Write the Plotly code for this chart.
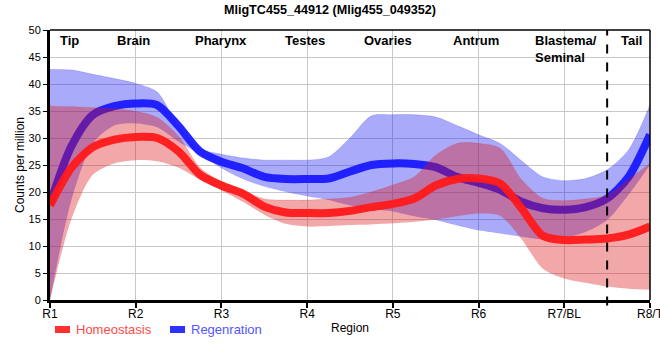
import plotly.graph_objects as go

# region positions (1 = R1 ... 8 = R8/T), quarter steps
pos = [1, 1.25, 1.5, 1.75, 2, 2.25, 2.5, 2.75, 3, 3.25, 3.5, 3.75, 4, 4.25, 4.5, 4.75,
       5, 5.25, 5.5, 5.75, 6, 6.25, 6.5, 6.75, 7, 7.25, 7.5, 7.75, 8]

homeo_mean = [17.5, 24.5, 28.3, 29.7, 30.2, 30.0, 27.5, 23.2, 21.2, 19.7, 17.3, 16.2, 16.1, 16.1, 16.5, 17.2,
              17.8, 18.8, 21.2, 22.4, 22.5, 21.6, 17.0, 11.9, 11.1, 11.2, 11.4, 12.1, 13.6]
homeo_upper = [35.9, 35.8, 35.6, 35.4, 34.9, 33.8, 30.3, 24.5, 21.9, 20.3, 18.7, 18.5, 18.5, 18.7, 19.0, 20.0,
               21.3, 22.8, 26.8, 29.0, 29.0, 28.1, 22.3, 18.8, 18.4, 18.7, 19.4, 22.3, 25.3]
homeo_lower = [0.0, 15.0, 23.2, 25.3, 25.9, 25.7, 24.5, 22.3, 20.3, 18.2, 15.8, 14.1, 13.6, 13.7, 13.9, 14.0,
               14.2, 14.5, 14.9, 15.5, 16.0, 15.6, 11.3, 5.8, 4.0, 3.2, 2.5, 2.1, 1.9]

regen_mean = [17.8, 28.5, 34.3, 35.9, 36.4, 36.1, 32.2, 27.5, 25.6, 24.4, 22.8, 22.4, 22.4, 22.5, 23.8, 25.0,
              25.3, 25.2, 24.6, 22.8, 21.7, 20.4, 18.2, 17.0, 16.7, 17.2, 18.8, 22.8, 30.6]
regen_upper = [42.7, 42.6, 41.8, 41.0, 40.1, 38.5, 32.0, 28.0, 27.0, 26.3, 25.9, 25.9, 25.9, 26.5, 30.0, 34.1,
               34.3, 34.3, 33.9, 32.3, 30.6, 29.0, 25.8, 22.8, 22.1, 22.5, 24.1, 27.8, 36.1]
regen_lower = [0.0, 18.5, 29.0, 32.3, 32.7, 32.0, 29.3, 27.0, 24.4, 22.4, 21.0, 20.0, 19.2, 18.5, 17.5, 16.8,
               16.4, 15.5, 14.8, 13.8, 12.9, 12.3, 11.7, 11.2, 11.5, 12.6, 14.8, 19.5, 25.0]

tick_pos = [1, 2, 3, 4, 5, 6, 7, 8]
tick_labels = ["R1", "R2", "R3", "R4", "R5", "R6", "R7/BL", "R8/T"]

region_names = ["Tip", "Brain", "Pharynx", "Testes", "Ovaries", "Antrum", "Blastema/<br>Seminal", "Tail"]
region_name_pos = [1.23, 1.97, 2.99, 3.97, 4.94, 5.97, 7.02, 7.78]

series_names = ["Homeostasis", "Regenration"]
series_text_colors = ["#ff4a4a", "#5454ff"]
series_swatch_colors = ["#ff3030", "#3030ff"]

title_text = "MligTC455_44912 (Mlig455_049352)"

SM = 0.8
fig = go.Figure()

# Regeneration band
fig.add_trace(go.Scatter(x=pos, y=regen_lower, mode="lines", line=dict(width=0, shape="spline", smoothing=SM),
                         showlegend=False, hoverinfo="skip"))
fig.add_trace(go.Scatter(x=pos, y=regen_upper, mode="lines", fill="tonexty",
                         fillcolor="rgba(20,20,240,0.36)",
                         line=dict(width=0.6, color="rgba(20,20,240,0.3)", shape="spline", smoothing=SM),
                         showlegend=False, hoverinfo="skip"))
# Regeneration line
fig.add_trace(go.Scatter(x=pos, y=regen_mean, mode="lines",
                         line=dict(width=8, color="rgba(25,25,255,0.95)", shape="spline", smoothing=SM),
                         name=series_names[1], showlegend=False))
# Homeostasis band
fig.add_trace(go.Scatter(x=pos, y=homeo_lower, mode="lines", line=dict(width=0, shape="spline", smoothing=SM),
                         showlegend=False, hoverinfo="skip"))
fig.add_trace(go.Scatter(x=pos, y=homeo_upper, mode="lines", fill="tonexty",
                         fillcolor="rgba(220,20,20,0.37)",
                         line=dict(width=0.6, color="rgba(220,20,20,0.3)", shape="spline", smoothing=SM),
                         showlegend=False, hoverinfo="skip"))
# Homeostasis line
fig.add_trace(go.Scatter(x=pos, y=homeo_mean, mode="lines",
                         line=dict(width=8, color="rgba(255,25,25,0.95)", shape="spline", smoothing=SM),
                         name=series_names[0], showlegend=False))

for name, xp in zip(region_names, region_name_pos):
    fig.add_annotation(x=xp, y=49.75, yanchor="top", text="<b>" + name + "</b>", showarrow=False,
                       align="left", font=dict(size=13, color="black", family="Liberation Sans, Arial"))

# manual legend (bottom left)
legend_x = [5, 120]  # px offsets from plot left
for i, (nm, tc, sc) in enumerate(zip(series_names, series_text_colors, series_swatch_colors)):
    x0 = legend_x[i] / 600.0
    fig.add_shape(type="rect", xref="paper", yref="paper", x0=x0, x1=x0 + 15 / 600.0,
                  y0=-33 / 270.0, y1=-26 / 270.0, fillcolor=sc, line=dict(width=0))
    fig.add_annotation(xref="paper", yref="paper", x=x0 + 19 / 600.0, y=-29.5 / 270.0, xanchor="left",
                       yanchor="middle", text=nm, showarrow=False, font=dict(size=13, color=tc))

# dashed separator
fig.add_shape(type="line", x0=7.5, x1=7.5, y0=-0.02, y1=1, xref="x", yref="paper",
              line=dict(color="black", width=2, dash="dash"))
# top and right border
fig.add_shape(type="line", x0=0, x1=1, y0=1, y1=1, xref="paper", yref="paper",
              line=dict(color="black", width=1.5))
fig.add_shape(type="line", x0=1, x1=1, y0=0, y1=1, xref="paper", yref="paper",
              line=dict(color="black", width=1.5))

fig.update_layout(
    width=660, height=360,
    margin=dict(l=50, r=10, t=30, b=60, autoexpand=False),
    paper_bgcolor="white", plot_bgcolor="white",
    font=dict(family="Liberation Sans, Arial", size=12, color="black"),
    title=dict(text="<b>" + title_text + "</b>", x=0.5, xref="container", xanchor="center",
               y=0.972, yref="container", yanchor="middle", font=dict(size=12.6, color="black")),
    showlegend=False,
    xaxis=dict(range=[1, 8], tickvals=tick_pos, ticktext=tick_labels, showgrid=True, gridcolor="#c8c8c8",
               gridwidth=1, showline=True, linecolor="black", linewidth=3, ticks="outside", ticklen=5,
               tickwidth=2, tickcolor="black", zeroline=False, automargin=False, ticklabeloverflow="allow",
               ticklabelstandoff=-4,
               tickfont=dict(size=12, color="black"),
               title=dict(text="Region", standoff=4, font=dict(size=12))),
    yaxis=dict(range=[0, 50], dtick=5, showgrid=True, gridcolor="#c8c8c8", gridwidth=1, showline=True,
               linecolor="black", linewidth=3, ticks="outside", ticklen=4, tickwidth=1, tickcolor="black",
               zeroline=False, automargin=False, tickfont=dict(size=11, color="black"),
               title=dict(text="Counts per million", standoff=2, font=dict(size=12))),
)

fig.write_html("out.html", config={"displayModeBar": False},
               post_script="document.body.style.margin='0px';")
